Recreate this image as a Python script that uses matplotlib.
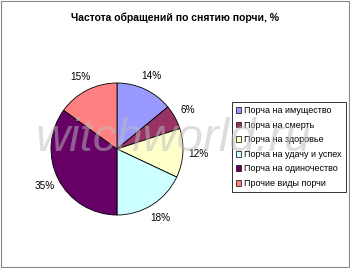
import matplotlib.pyplot as plt
from matplotlib.patches import Rectangle

plt.rcParams['font.family'] = ['Liberation Sans', 'DejaVu Sans']

# share of requests by type, %
categories = [
    "Порча на имущество",
    "Порча на смерть",
    "Порча на здоровье",
    "Порча на удачу и успех",
    "Порча на одиночество",
    "Прочие виды порчи",
]
values = [14, 6, 12, 18, 35, 15]
colors = ["#9999FF", "#993366", "#FFFFCC", "#CCFFFF", "#660066", "#FF8080"]
title = "Частота обращений по снятию порчи, %"

W, H = 350, 268
fig = plt.figure(figsize=(W / 100, H / 100), dpi=100)
fig.patch.set_facecolor("white")

# pie axes, centre and radius in pixels
cx, cy, r = 117, 149, 66
ax = fig.add_axes([(cx - r) / W, (H - cy - r) / H, 2 * r / W, 2 * r / H])
wedges, texts, autotexts = ax.pie(
    values,
    colors=colors,
    startangle=90,
    counterclock=False,
    radius=1.0,
    autopct=lambda p: f"{p:.0f}%",
    pctdistance=1.23,
    wedgeprops=dict(edgecolor="black", linewidth=0.6),
    textprops=dict(fontsize=7.2, color="black"),
)
ax.set_xlim(-1, 1)
ax.set_ylim(-1, 1)
ax.set_aspect("equal")
ax.axis("off")

fig.text(175 / W, 1 - 18 / H, title, ha="center", va="center",
         fontsize=7.5, fontweight="bold")

leg = fig.legend(
    wedges, categories,
    loc="upper left", bbox_to_anchor=(232 / W, 1 - 102 / H),
    fontsize=6.5, frameon=True, fancybox=False,
    handlelength=0.6, handleheight=0.6, handletextpad=0.3,
    labelspacing=0.62, borderpad=0.45, borderaxespad=0,
)
leg.get_frame().set_edgecolor("black")
leg.get_frame().set_linewidth(0.7)
for h in leg.legend_handles:
    h.set_linewidth(0.5)

# watermark
fig.text(36 / W, 1 - 151 / H, "witchworld.ru", ha="left", va="baseline",
         fontsize=34, fontstyle="italic", color="#bdbdbd", alpha=0.5,
         zorder=10)

# outer frame
fig.add_artist(Rectangle((0.002, 0.002), 0.996, 0.994, transform=fig.transFigure,
                         fill=False, edgecolor="#888888", linewidth=0.8))

fig.savefig("out.png", dpi=100)
